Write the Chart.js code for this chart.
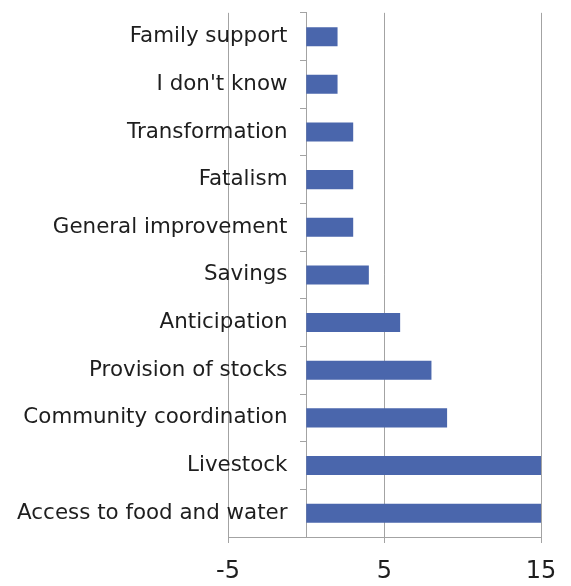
<!DOCTYPE html>
<html>
<head>
<meta charset="utf-8">
<script src="https://cdn.jsdelivr.net/npm/chart.js@4"></script>
<style>
  html, body { margin: 0; padding: 0; background: #fff; }
  #wrap { width: 571px; height: 586px; }
</style>
</head>
<body>
<div id="wrap"><canvas id="chart"></canvas></div>
<script>
// categories, top to bottom
const categories = [
  'Family support',
  "I don't know",
  'Transformation',
  'Fatalism',
  'General improvement',
  'Savings',
  'Anticipation',
  'Provision of stocks',
  'Community coordination',
  'Livestock',
  'Access to food and water'
];
const counts = [2, 2, 3, 3, 3, 4, 6, 8, 9, 15, 15];
const xTicks = [-5, 5, 15];

const axisGray = '#a3a3a3';
const textColor = '#1e1e1e';
const fontFamily = '"DejaVu Sans", sans-serif';

const ctx = document.getElementById('chart').getContext('2d');
new Chart(ctx, {
  type: 'bar',
  data: {
    labels: categories,
    datasets: [{
      data: counts,
      yAxisID: 'y',
      backgroundColor: '#4a66ac',
      borderWidth: 0,
      barPercentage: 0.4,
      categoryPercentage: 1.0
    }]
  },
  options: {
    indexAxis: 'y',
    responsive: true,
    maintainAspectRatio: false,
    animation: false,
    layout: { padding: { left: 228, right: 30, top: 2, bottom: 0 } },
    plugins: {
      legend: { display: false },
      tooltip: { enabled: false }
    },
    scales: {
      x: {
        min: xTicks[0],
        max: xTicks[xTicks.length - 1],
        afterBuildTicks: (scale) => {
          scale.ticks = xTicks.map(v => ({ value: v }));
        },
        afterFit: (scale) => {
          scale.height = 49;
        },
        grid: {
          color: axisGray,
          lineWidth: 1,
          tickLength: 6
        },
        border: { color: axisGray, width: 1 },
        ticks: {
          color: textColor,
          font: { family: fontFamily, size: 24 },
          padding: 14,
          maxRotation: 0
        }
      },
      // axis line at zero with short boundary ticks
      y: {
        position: { x: 0 },
        grid: {
          offset: true,
          drawOnChartArea: false,
          color: axisGray,
          tickLength: 6
        },
        border: { color: axisGray, width: 1 },
        ticks: { display: false }
      },
      // category names, right-aligned a little left of the zero line
      yLabels: {
        type: 'category',
        position: { x: -1.2 },
        offset: true,
        grid: { display: false, drawTicks: false },
        border: { display: false },
        ticks: {
          color: textColor,
          font: { family: fontFamily, size: 21.4 },
          padding: 0
        }
      }
    }
  }
});
</script>
</body>
</html>
